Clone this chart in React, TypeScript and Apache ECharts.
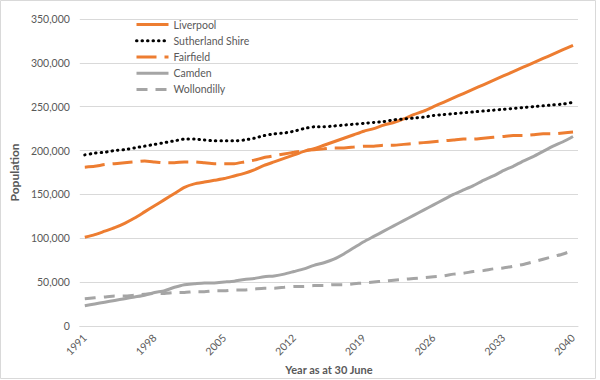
import React, { useEffect, useRef } from "react";
import * as echarts from "echarts";

const years: string[] = [];
for (let y = 1991; y <= 2040; y++) years.push(String(y));

const liverpool = [
  101, 104, 108, 112, 117, 123, 130, 137, 144, 151,
  158, 162, 164, 166, 168, 171, 174, 178, 183, 187,
  191, 195, 199, 202, 206, 210, 214, 218, 222, 225,
  229, 232, 236, 241, 245, 250, 255, 260, 265, 270,
  275, 280, 285, 290, 295, 300, 305, 310, 315, 320,
].map((v) => v * 1000);

const sutherland = [
  195, 197, 198, 200, 201, 203, 205, 207, 209, 211,
  213, 213, 212, 211, 211, 211, 212, 214, 217, 219,
  220, 222, 225, 227, 227, 228, 229, 230, 231, 232,
  233, 235, 236, 237, 238, 240, 241, 242, 243, 244,
  245, 246, 247, 248, 249, 250, 251, 252, 253, 255,
].map((v) => v * 1000);

const fairfield = [
  181, 182, 184, 185, 186, 187, 188, 187, 186, 186,
  187, 187, 186, 185, 185, 185, 187, 189, 192, 194,
  196, 198, 200, 201, 202, 203, 203, 204, 205, 205,
  206, 206, 207, 208, 209, 210, 211, 212, 213, 213,
  214, 215, 216, 217, 217, 218, 219, 219, 220, 221,
].map((v) => v * 1000);

const camden = [
  23, 25, 27, 29, 31, 33, 35, 38, 40, 44,
  47, 48, 49, 49, 50, 51, 53, 54, 56, 57,
  59, 62, 65, 69, 72, 76, 82, 89, 96, 102,
  108, 114, 120, 126, 132, 138, 144, 150, 155, 160,
  166, 171, 177, 182, 188, 193, 199, 205, 210, 216,
].map((v) => v * 1000);

const wollondilly = [
  31, 32, 33, 34, 34, 35, 36, 37, 37, 38,
  38, 39, 39, 40, 40, 41, 41, 42, 43, 43,
  44, 45, 45, 46, 46, 47, 47, 48, 49, 50,
  51, 52, 53, 54, 55, 56, 57, 59, 60, 62,
  63, 65, 66, 68, 70, 73, 76, 79, 82, 86,
].map((v) => v * 1000);

const ORANGE = "#ED7D31";
const GRAY = "#A5A5A5";
const TEXT = "#595959";
const FONT = "Lato, 'Open Sans', sans-serif";

export default function App() {
  const ref = useRef<HTMLDivElement>(null);
  useEffect(() => {
    if (!ref.current) return;
    const chart = echarts.init(ref.current, undefined, { renderer: "svg" });
    const mk = (name: string, data: number[], color: string, type: any, cap: any = "butt") => ({
      name,
      type: "line",
      data,
      showSymbol: false,
      symbol: "none",
      smooth: 0.2,
      lineStyle: { color, width: 3, type, cap },
      itemStyle: { color },
    });
    const names = ["Liverpool", "Sutherland Shire", "Fairfield", "Camden", "Wollondilly"];
    chart.setOption({
      animation: false,
      textStyle: { fontFamily: FONT },
      grid: { left: 76, right: 22, top: 19, bottom: 53 },
      graphic: [
        {
          type: "rect",
          shape: { x: 0.5, y: 0.5, width: 595, height: 378 },
          style: { fill: "none", stroke: "#D9D9D9", lineWidth: 1 },
          silent: true,
        },
      ],
      legend: {
        orient: "vertical",
        left: 130,
        top: 14,
        itemWidth: 32,
        itemHeight: 14,
        itemGap: 5,
        itemStyle: { opacity: 0 },
        lineStyle: { width: 3 },
        textStyle: { color: TEXT, fontSize: 10.5, fontFamily: FONT },
        data: names.map((n) => ({ name: n, itemStyle: { opacity: 0 } })),
      },
      xAxis: {
        type: "category",
        data: years,
        boundaryGap: true,
        name: "Year as at 30 June",
        nameLocation: "middle",
        nameGap: 35,
        nameTextStyle: { color: TEXT, fontSize: 11, fontWeight: "bold", fontFamily: FONT },
        axisLine: { lineStyle: { color: "#D9D9D9" } },
        axisTick: { show: false },
        axisLabel: { interval: 6, rotate: 45, color: TEXT, fontSize: 10.5, fontFamily: FONT, margin: 10 },
      },
      yAxis: {
        type: "value",
        min: 0,
        max: 350000,
        interval: 50000,
        name: "Population",
        nameLocation: "middle",
        nameGap: 56,
        nameRotate: 90,
        nameTextStyle: { color: TEXT, fontSize: 12, fontWeight: "bold", fontFamily: FONT },
        axisLine: { show: false },
        axisTick: { show: false },
        splitLine: { lineStyle: { color: "#D9D9D9" } },
        axisLabel: {
          color: TEXT,
          fontSize: 10.5,
          fontFamily: FONT,
          margin: 10,
          formatter: (v: number) => v.toLocaleString("en-US"),
        },
      },
      series: [
        mk("Liverpool", liverpool, ORANGE, "solid"),
        mk("Sutherland Shire", sutherland, "#000000", [0.5, 5], "round"),
        mk("Fairfield", fairfield, ORANGE, [20, 8]),
        mk("Camden", camden, GRAY, "solid"),
        mk("Wollondilly", wollondilly, GRAY, [11, 8]),
      ],
    });
    return () => chart.dispose();
  }, []);
  return (
    <div
      ref={ref}
      style={{ position: "absolute", left: 0, top: 0, width: 600, height: 380, background: "#fff" }}
    />
  );
}
